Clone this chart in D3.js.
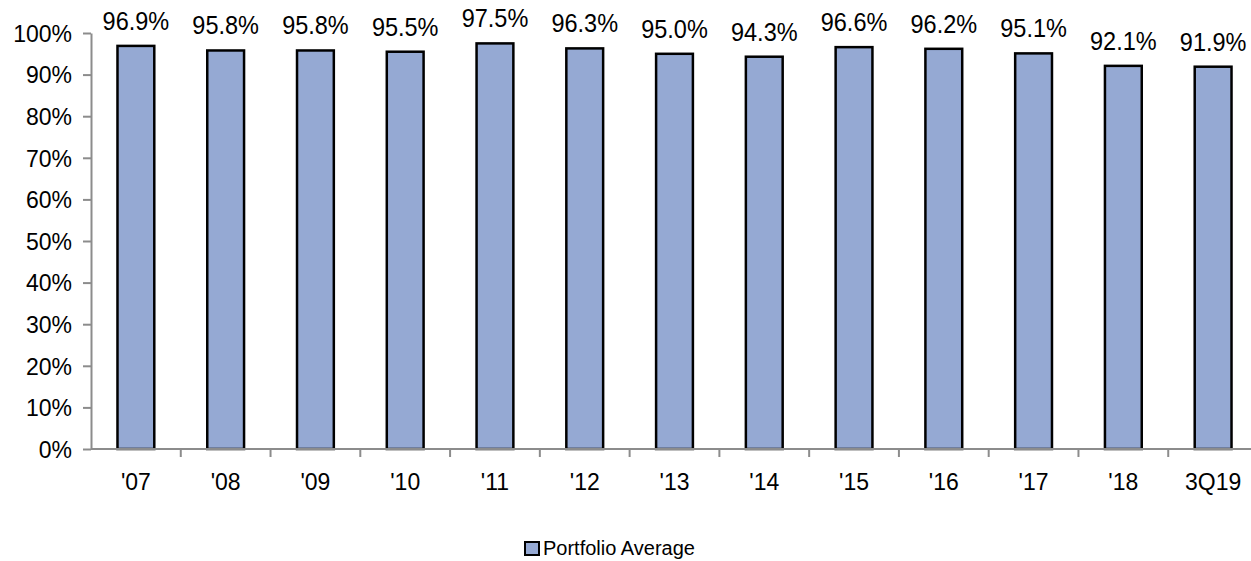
<!DOCTYPE html>
<html>
<head>
<meta charset="utf-8">
<script src="https://cdn.jsdelivr.net/npm/d3@7"></script>
<style>
  body { margin: 0; background: #fff; }
  text { font-family: "Liberation Sans", Arial, sans-serif; fill: #000; }
</style>
</head>
<body>
<svg width="1251" height="561"></svg>
<script>
// data
const categories = ["'07", "'08", "'09", "'10", "'11", "'12", "'13", "'14", "'15", "'16", "'17", "'18", "3Q19"];
const values = [96.9, 95.8, 95.8, 95.5, 97.5, 96.3, 95.0, 94.3, 96.6, 96.2, 95.1, 92.1, 91.9];
const yTicks = [0, 10, 20, 30, 40, 50, 60, 70, 80, 90, 100];
const seriesName = "Portfolio Average";

const svg = d3.select("svg");
const plotLeft = 91, plotRight = 1258, plotTop = 33, plotBottom = 449;

const x = d3.scaleBand().domain(categories).range([plotLeft, plotRight]).paddingInner(0.59).paddingOuter(0.295);
const xEdges = d3.scaleLinear().domain([0, categories.length]).range([plotLeft, plotRight]);
const y = d3.scaleLinear().domain([0, 100]).range([plotBottom, plotTop]);

const axisColor = "#8c8c8c";
const stretch = 1.08; // text in the source is slightly taller than wide

// y axis
const yAxis = svg.append("g")
    .attr("transform", `translate(${plotLeft},0)`)
    .call(d3.axisLeft(y).tickValues(yTicks).tickSize(8).tickSizeOuter(0).tickFormat(d => d + "%"));
yAxis.select(".domain").attr("stroke", axisColor).attr("stroke-width", 2);
yAxis.selectAll(".tick line").attr("stroke", axisColor).attr("stroke-width", 2);
yAxis.selectAll(".tick text")
    .attr("x", -19)
    .attr("dy", "0.36em")
    .style("font-size", "23px");

// bars
svg.append("g")
    .selectAll("rect")
    .data(values)
    .join("rect")
    .attr("x", (d, i) => x(categories[i]))
    .attr("width", x.bandwidth())
    .attr("y", d => y(d))
    .attr("height", d => y(0) - y(d))
    .attr("fill", "#95a9d3")
    .attr("stroke", "#000")
    .attr("stroke-width", 2.5);

// x axis (drawn after bars so the baseline sits on top)
const xg = svg.append("g");
xg.append("line")
    .attr("x1", plotLeft).attr("x2", 1251)
    .attr("y1", plotBottom).attr("y2", plotBottom)
    .attr("stroke", axisColor).attr("stroke-width", 2);
xg.selectAll("line.tk")
    .data(d3.range(1, categories.length))
    .join("line")
    .attr("class", "tk")
    .attr("x1", d => xEdges(d)).attr("x2", d => xEdges(d))
    .attr("y1", plotBottom).attr("y2", plotBottom + 8)
    .attr("stroke", axisColor).attr("stroke-width", 2);
xg.selectAll("text")
    .data(categories)
    .join("text")
    .attr("transform", d => `translate(${x(d) + x.bandwidth() / 2},490) scale(1,${stretch})`)
    .attr("text-anchor", "middle")
    .style("font-size", "23px")
    .text(d => d);

// value labels
svg.append("g")
    .selectAll("text")
    .data(values)
    .join("text")
    .attr("transform", (d, i) => `translate(${x(categories[i]) + x.bandwidth() / 2},${y(d) - 16}) scale(1,${stretch})`)
    .attr("text-anchor", "middle")
    .style("font-size", "23.5px")
    .text(d => d.toFixed(1) + "%");

// legend
const lg = svg.append("g").attr("transform", "translate(525,542)");
lg.append("rect")
    .attr("width", 14).attr("height", 13)
    .attr("fill", "#95a9d3").attr("stroke", "#000").attr("stroke-width", 2);
lg.append("text")
    .attr("x", 18).attr("y", 13)
    .style("font-size", "20px")
    .text(seriesName);
</script>
</body>
</html>
